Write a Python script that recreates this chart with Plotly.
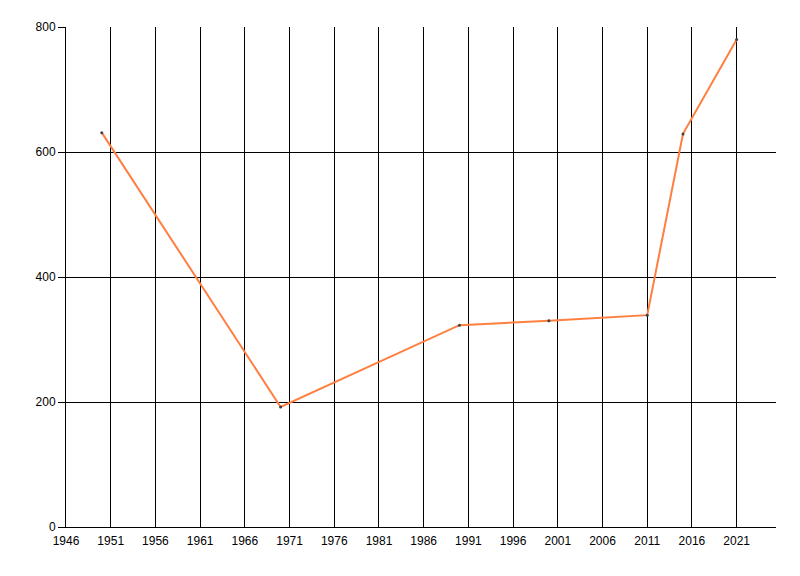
import plotly.graph_objects as go

years = [1950, 1970, 1990, 2000, 2011, 2015, 2021]
values = [631, 192, 323, 330, 339, 629, 780]

fig = go.Figure()
fig.add_trace(go.Scatter(
    x=years,
    y=values,
    mode="lines+markers",
    line=dict(color="#FF7F40", width=2),
    marker=dict(size=3, color="#404040"),
    showlegend=False,
))

# page has an 8px body margin, so margins are compensated
fig.update_layout(
    width=800,
    height=576,
    margin=dict(l=58, r=32, t=19, b=57),
    plot_bgcolor="white",
    paper_bgcolor="white",
    font=dict(family="Liberation Sans", size=12, color="black"),
    xaxis=dict(
        range=[1946, 2025.4],
        tick0=1946,
        dtick=5,
        showgrid=True,
        gridcolor="black",
        gridwidth=1,
        showline=True,
        linecolor="black",
        linewidth=1,
        ticks="",
        ticklabelstandoff=3,
        zeroline=False,
    ),
    yaxis=dict(
        range=[0, 800],
        dtick=200,
        showgrid=True,
        gridcolor="black",
        gridwidth=1,
        showline=True,
        linecolor="black",
        linewidth=1,
        ticks="outside",
        ticklen=7,
        tickcolor="black",
        zeroline=False,
    ),
)

fig.write_html("out.html")
